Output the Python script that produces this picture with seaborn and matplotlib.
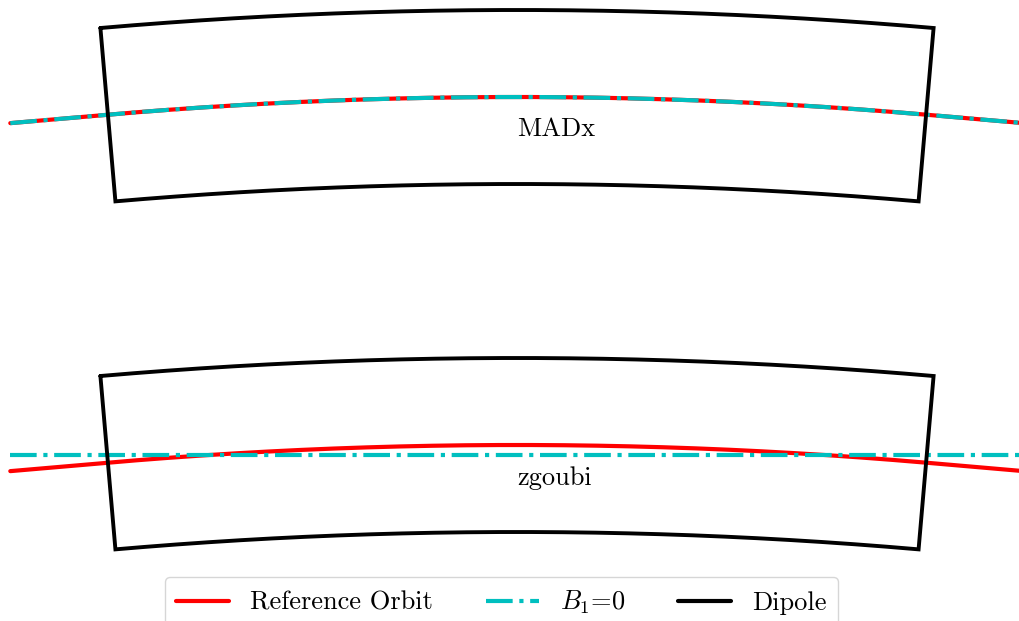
import numpy as np
import matplotlib
matplotlib.use("Agg")
import matplotlib.pyplot as plt
from matplotlib.lines import Line2D
import seaborn as sns

# ---- machine description (metres / degrees) ----
codes = ["MADx", "zgoubi"]
bend_angle_deg = 9.9          # total bending angle of the dipole
rho = 4.741                   # bending radius of the reference orbit
pole_half_width = 0.087       # radial half-width of the drawn dipole
drift_length = 0.098          # straight orbit length before/after the magnet
zgoubi_b1_offset = -0.010     # transverse position of the B1=0 track in zgoubi
legend_labels = ["Reference Orbit", r"$B_1$=0", "Dipole"]
line_colors = ["#ff0000", "#00bfbf", "#000000"]
line_styles = ["-", "-.", "-"]

sns.set_theme(style="white")
plt.rcParams["font.family"] = ["serif"]
plt.rcParams["font.serif"] = ["cmr10", "DejaVu Serif"]
plt.rcParams["mathtext.fontset"] = "cm"
plt.rcParams["axes.formatter.use_mathtext"] = True
plt.rcParams["text.color"] = "black"

half = np.deg2rad(bend_angle_deg) / 2.0


def arc(radius, n=200):
    a = np.linspace(-half, half, n)
    return radius * np.sin(a), radius * np.cos(a) - rho


def reference_orbit():
    xa, ya = arc(rho)
    # straight drifts tangent to the arc at both magnet edges
    dx, dy = drift_length * np.cos(half), drift_length * np.sin(half)
    x = np.concatenate([[xa[0] - dx], xa, [xa[-1] + dx]])
    y = np.concatenate([[ya[0] - dy], ya, [ya[-1] - dy]])
    return x, y


def dipole_outline():
    xo, yo = arc(rho + pole_half_width)
    xi, yi = arc(rho - pole_half_width)
    x = np.concatenate([xo, xi[::-1], xo[:1]])
    y = np.concatenate([yo, yi[::-1], yo[:1]])
    return x, y


fig = plt.figure(figsize=(10.19, 6.21), dpi=100)
W, H = 1019.0, 621.0
# axes in pixel rows: (top row, bottom row, row of orbit apex)
panels = [(0, 310, 97), (330, 621, 445)]
orbit_x, orbit_y = reference_orbit()
dip_x, dip_y = dipole_outline()

for code, (r0, r1, apex) in zip(codes, panels):
    ax = fig.add_axes([0, 1 - r1 / H, 1, (r1 - r0) / H])
    ax.set_xlim(-0.517, -0.517 + W / 1000.0)
    ax.set_ylim((apex - r1) / 1000.0, (apex - r0) / 1000.0)
    sns.lineplot(x=orbit_x, y=orbit_y, sort=False, estimator=None,
                 color=line_colors[0], lw=3, ax=ax, legend=False)
    if code == "MADx":
        b1_x, b1_y = orbit_x, orbit_y
    else:
        b1_x = np.array([orbit_x[0], orbit_x[-1]])
        b1_y = np.array([zgoubi_b1_offset, zgoubi_b1_offset])
    sns.lineplot(x=b1_x, y=b1_y, sort=False, estimator=None,
                 color=line_colors[1], lw=3, linestyle="-.", ax=ax, legend=False)
    sns.lineplot(x=dip_x, y=dip_y, sort=False, estimator=None,
                 color=line_colors[2], lw=2.8, ax=ax, legend=False,
                 solid_joinstyle="miter")
    ax.text(0.0, -0.0395, code, fontsize=19, ha="left", va="baseline",
            color="black")
    ax.set_axis_off()

handles = [Line2D([], [], color=c, ls=s, lw=3)
           for c, s in zip(line_colors, line_styles)]
leg = fig.legend(handles, legend_labels, loc="upper center", ncol=3,
                 bbox_to_anchor=(501.5 / W, 1 - 577 / H), borderaxespad=0,
                 fontsize=19, frameon=True, fancybox=True, edgecolor="0.8",
                 framealpha=0.8, borderpad=0.45)
for t in leg.get_texts():
    t.set_color("black")

fig.savefig("out.png", dpi=100)
